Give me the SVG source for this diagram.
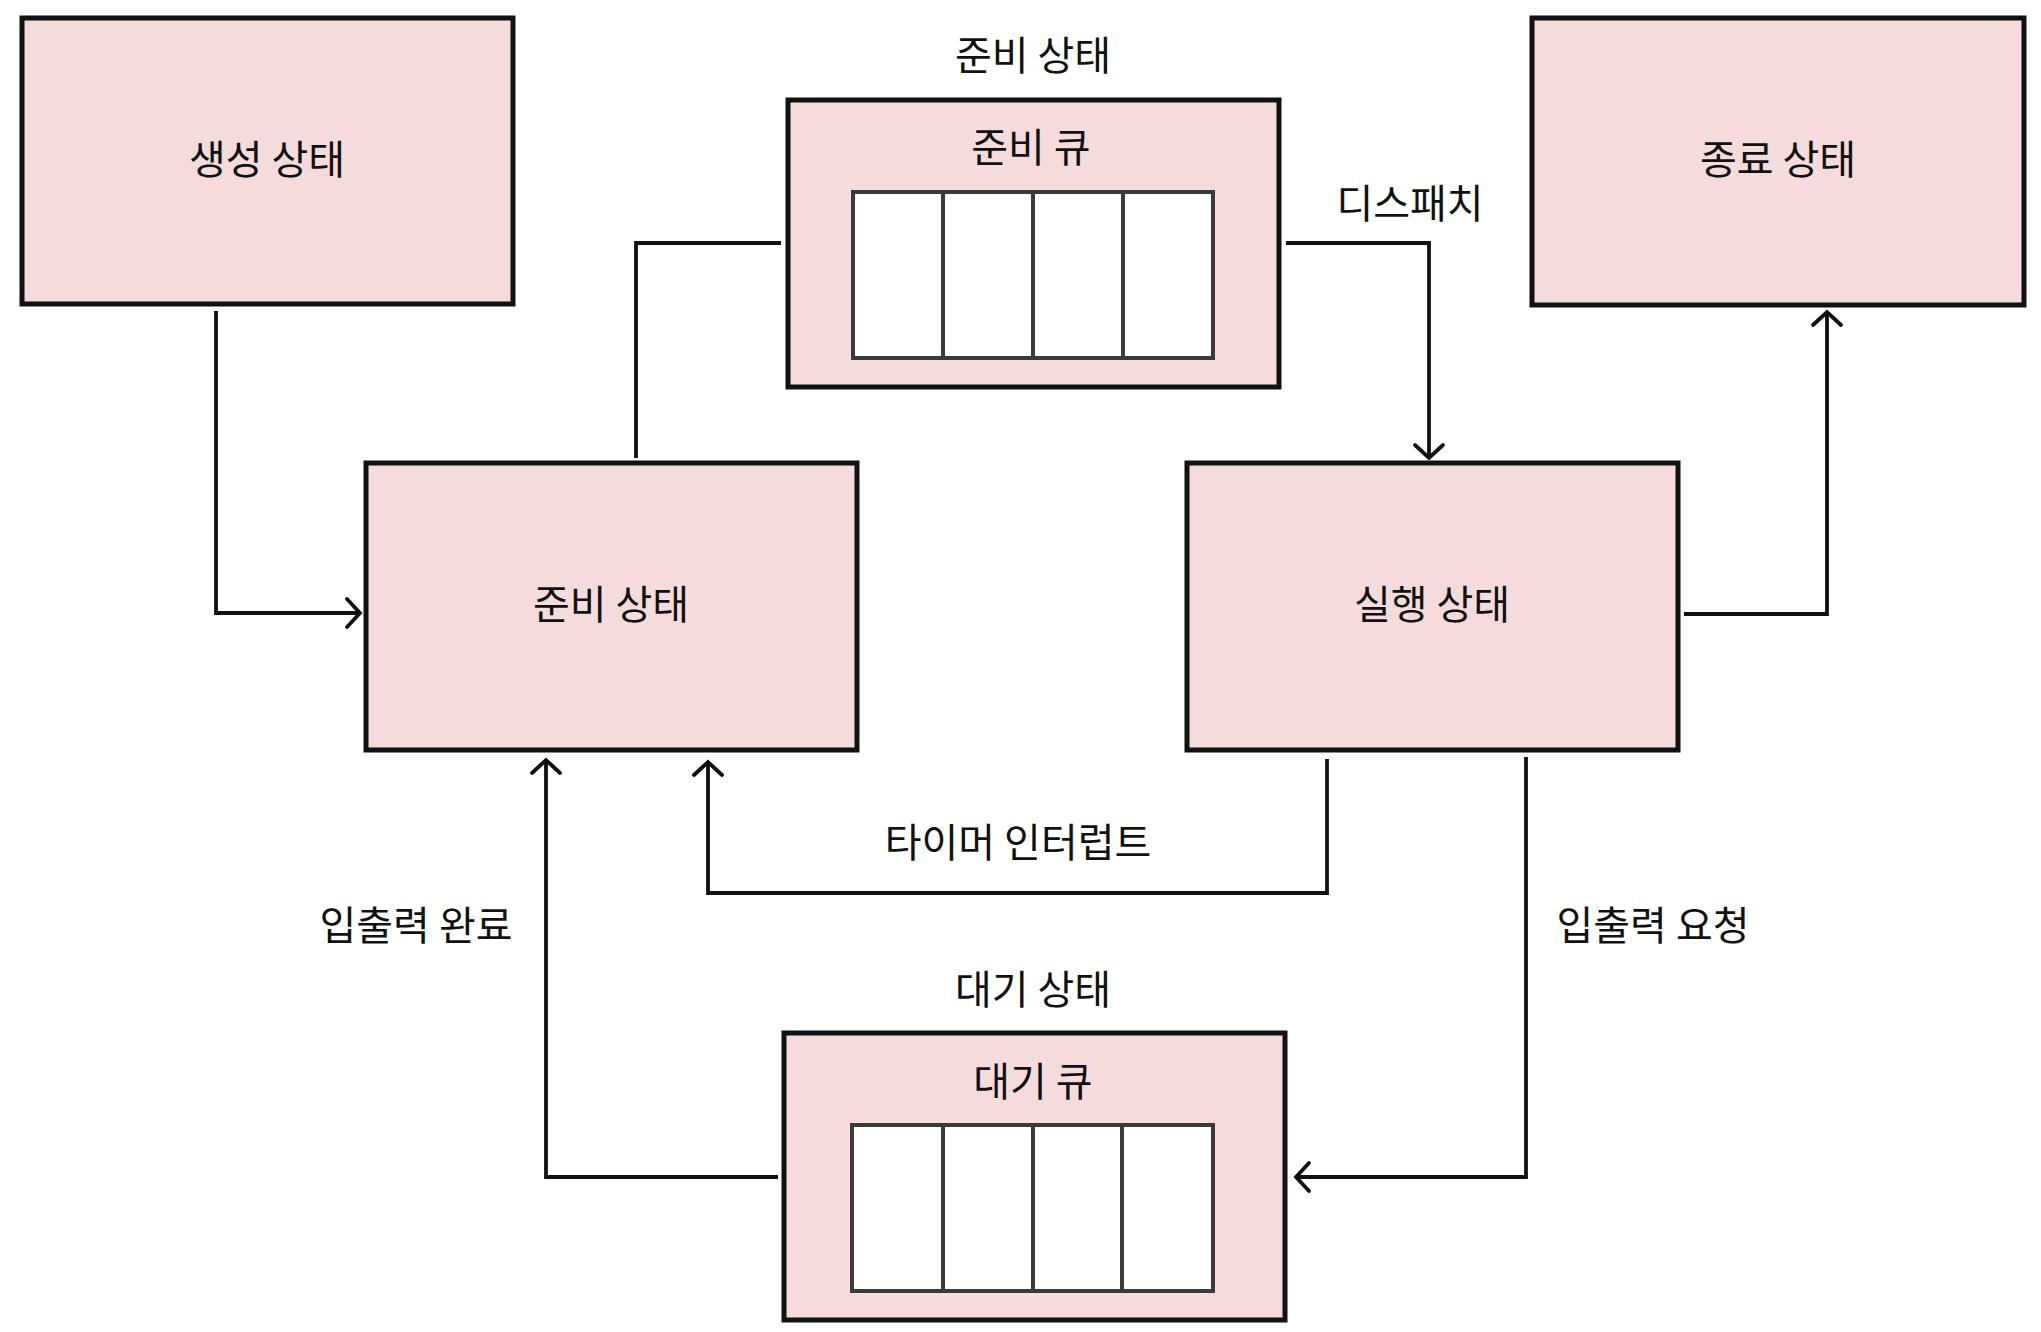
<svg xmlns="http://www.w3.org/2000/svg" width="2041" height="1332" viewBox="0 0 2041 1332">
<style>
.box{fill:#f5dbdb;stroke:#111;stroke-width:5}
.cell{fill:#fff;stroke:#3a3a3a;stroke-width:4}
.lbl{font-family:"Noto Sans CJK KR","Noto Sans",sans-serif;font-size:40px;fill:#111;text-anchor:middle}
.con{fill:none;stroke:#111;stroke-width:3.8;stroke-linejoin:miter}
</style>
<defs>
<marker id="arr" markerUnits="userSpaceOnUse" markerWidth="40" markerHeight="40" refX="20" refY="16" orient="auto" viewBox="0 0 40 32">
<path d="M7,2 L20,16 L7,30" fill="none" stroke="#111" stroke-width="3.8" stroke-linecap="round"/>
</marker>
</defs>
<rect width="2041" height="1332" fill="#fff"/>
<g id="new-state">
<rect class="box" x="22" y="18" width="491" height="286"/>
<text class="lbl" x="267" y="174">생성 상태</text>
</g>
<g id="ready-queue">
<text class="lbl" x="1033" y="70">준비 상태</text>
<rect class="box" x="788" y="100" width="491" height="287"/>
<text class="lbl" x="1031" y="162">준비 큐</text>
<rect class="cell" x="853" y="192" width="360" height="166"/>
<line class="cell" x1="943" y1="192" x2="943" y2="358"/>
<line class="cell" x1="1033" y1="192" x2="1033" y2="358"/>
<line class="cell" x1="1123" y1="192" x2="1123" y2="358"/>
</g>
<g id="terminated-state">
<rect class="box" x="1532" y="18" width="492" height="287"/>
<text class="lbl" x="1778" y="174">종료 상태</text>
</g>
<g id="ready-state">
<rect class="box" x="366" y="463" width="491" height="287"/>
<text class="lbl" x="611" y="619">준비 상태</text>
</g>
<g id="running-state">
<rect class="box" x="1187" y="463" width="491" height="287"/>
<text class="lbl" x="1432" y="619">실행 상태</text>
</g>
<g id="waiting-queue">
<text class="lbl" x="1033" y="1004">대기 상태</text>
<rect class="box" x="784" y="1033" width="501" height="287"/>
<text class="lbl" x="1033" y="1096">대기 큐</text>
<rect class="cell" x="852" y="1125" width="361" height="166"/>
<line class="cell" x1="943" y1="1125" x2="943" y2="1291"/>
<line class="cell" x1="1033" y1="1125" x2="1033" y2="1291"/>
<line class="cell" x1="1122" y1="1125" x2="1122" y2="1291"/>
</g>
<g id="connectors">
<path class="con" d="M216,311 V613 H360" marker-end="url(#arr)"/>
<path class="con" d="M636,458 V243 H781"/>
<path class="con" d="M1286,243 H1429 V458" marker-end="url(#arr)"/>
<path class="con" d="M1684,614 H1827 V312" marker-end="url(#arr)"/>
<path class="con" d="M1327,759 V893 H708 V762" marker-end="url(#arr)"/>
<path class="con" d="M1526,757 V1177 H1296" marker-end="url(#arr)"/>
<path class="con" d="M778,1177 H546 V760" marker-end="url(#arr)"/>
<text class="lbl" x="1410" y="218">디스패치</text>
<text class="lbl" x="1018" y="857">타이머 인터럽트</text>
<text class="lbl" x="416" y="940">입출력 완료</text>
<text class="lbl" x="1653" y="940">입출력 요청</text>
</g>
</svg>
